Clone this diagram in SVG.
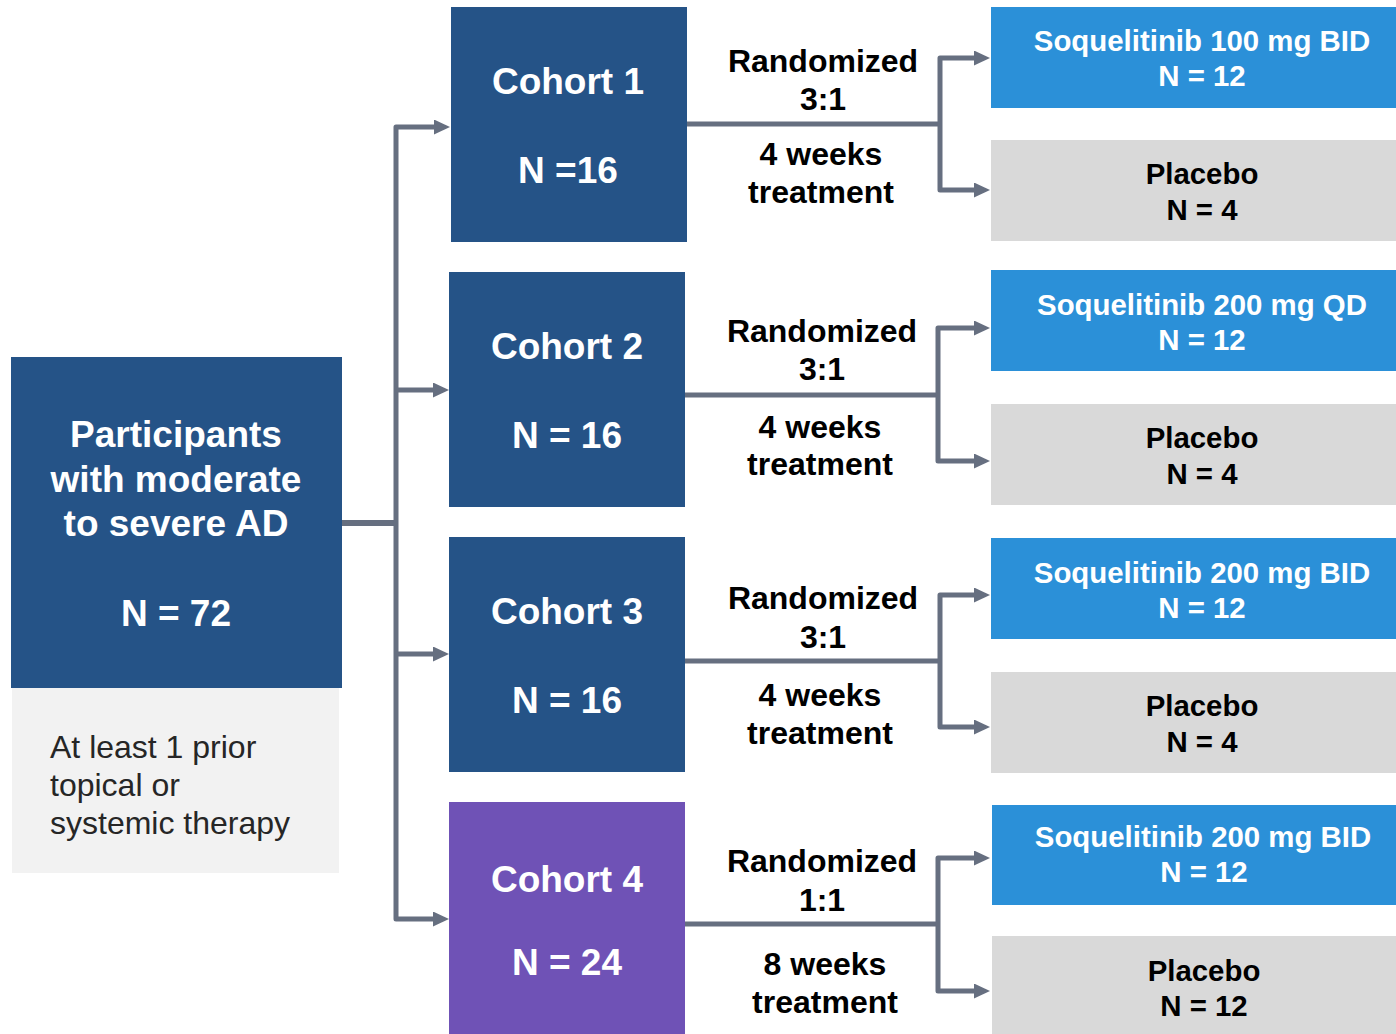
<svg xmlns="http://www.w3.org/2000/svg" width="1396" height="1034" viewBox="0 0 1396 1034">
<style>
text{font-family:"Liberation Sans",Arial,sans-serif;font-weight:bold;text-anchor:middle}
.cohort{fill:#255387}
.c4{fill:#6F52B6}
.drug{fill:#2B90D8}
.plac{fill:#D9D9D9}
.w37{font-size:37px;fill:#fff}
.w29{font-size:29.4px;fill:#fff}
.b29{font-size:29.4px;fill:#000}
.b31{font-size:32px;fill:#000}
.note{font-size:32px;font-weight:normal;text-anchor:start;fill:#262626}
.ln{fill:none;stroke:#666F80;stroke-width:5;stroke-linejoin:round}
</style>
<defs>
<marker id="ah" markerUnits="userSpaceOnUse" markerWidth="17" markerHeight="16" refX="1" refY="7.5" orient="auto">
<path d="M0,0 L16,7.5 L0,15 z" fill="#666F80"/>
</marker>
</defs>
<rect width="1396" height="1034" fill="#fff"/>
<g id="connectors">
<path class="ln" d="M342,523 H396" style="stroke-width:6"/>
<path class="ln" d="M396,523 V127 H435" marker-end="url(#ah)"/>
<path class="ln" d="M396,390 H434" marker-end="url(#ah)"/>
<path class="ln" d="M396,654 H434" marker-end="url(#ah)"/>
<path class="ln" d="M396,523 V919 H434" marker-end="url(#ah)"/>
<path class="ln" d="M687,124 H940"/>
<path class="ln" d="M940,124 V58 H975" marker-end="url(#ah)"/>
<path class="ln" d="M940,124 V190 H975" marker-end="url(#ah)"/>
<path class="ln" d="M685,395 H938"/>
<path class="ln" d="M938,395 V328 H975" marker-end="url(#ah)"/>
<path class="ln" d="M938,395 V461 H975" marker-end="url(#ah)"/>
<path class="ln" d="M685,661 H940"/>
<path class="ln" d="M940,661 V595 H975" marker-end="url(#ah)"/>
<path class="ln" d="M940,661 V727 H975" marker-end="url(#ah)"/>
<path class="ln" d="M685,924 H938"/>
<path class="ln" d="M938,924 V858 H975" marker-end="url(#ah)"/>
<path class="ln" d="M938,924 V991 H975" marker-end="url(#ah)"/>
</g>
<g id="participants">
<rect x="11" y="357" width="331" height="331" class="cohort"/>
<text class="w37" x="176" y="447">Participants</text>
<text class="w37" x="176" y="492">with moderate</text>
<text class="w37" x="176" y="536">to severe AD</text>
<text class="w37" x="176" y="626">N = 72</text>
</g>
<g id="criteria">
<rect x="12" y="688" width="327" height="185" fill="#F2F2F2"/>
<text class="note" x="50" y="758">At least 1 prior</text>
<text class="note" x="50" y="796">topical or</text>
<text class="note" x="50" y="834">systemic therapy</text>
</g>
<g id="cohort1">
<rect x="451" y="7" width="236" height="235" class="cohort"/>
<text class="w37" x="568" y="94">Cohort 1</text>
<text class="w37" x="568" y="183">N =16</text>
</g>
<g id="cohort2">
<rect x="449" y="272" width="236" height="235" class="cohort"/>
<text class="w37" x="567" y="359">Cohort 2</text>
<text class="w37" x="567" y="448">N = 16</text>
</g>
<g id="cohort3">
<rect x="449" y="537" width="236" height="235" class="cohort"/>
<text class="w37" x="567" y="624">Cohort 3</text>
<text class="w37" x="567" y="713">N = 16</text>
</g>
<g id="cohort4">
<rect x="449" y="802" width="236" height="232" class="c4"/>
<text class="w37" x="567" y="892">Cohort 4</text>
<text class="w37" x="567" y="975">N = 24</text>
</g>
<g id="label1">
<text class="b31" x="823" y="72">Randomized</text>
<text class="b31" x="823" y="110">3:1</text>
<text class="b31" x="821" y="165">4 weeks</text>
<text class="b31" x="821" y="203">treatment</text>
</g>
<g id="label2">
<text class="b31" x="822" y="342">Randomized</text>
<text class="b31" x="822" y="380">3:1</text>
<text class="b31" x="820" y="438">4 weeks</text>
<text class="b31" x="820" y="475">treatment</text>
</g>
<g id="label3">
<text class="b31" x="823" y="609">Randomized</text>
<text class="b31" x="823" y="648">3:1</text>
<text class="b31" x="820" y="706">4 weeks</text>
<text class="b31" x="820" y="744">treatment</text>
</g>
<g id="label4">
<text class="b31" x="822" y="872">Randomized</text>
<text class="b31" x="822" y="911">1:1</text>
<text class="b31" x="825" y="975">8 weeks</text>
<text class="b31" x="825" y="1013">treatment</text>
</g>
<g id="arm1a">
<rect x="991" y="7" width="405" height="101" class="drug"/>
<text class="w29" x="1202" y="51">Soquelitinib 100 mg BID</text>
<text class="w29" x="1202" y="86">N = 12</text>
</g>
<g id="arm1b">
<rect x="991" y="140" width="405" height="101" class="plac"/>
<text class="b29" x="1202" y="184">Placebo</text>
<text class="b29" x="1202" y="220">N = 4</text>
</g>
<g id="arm2a">
<rect x="991" y="270" width="405" height="101" class="drug"/>
<text class="w29" x="1202" y="315">Soquelitinib 200 mg QD</text>
<text class="w29" x="1202" y="350">N = 12</text>
</g>
<g id="arm2b">
<rect x="991" y="404" width="405" height="101" class="plac"/>
<text class="b29" x="1202" y="448">Placebo</text>
<text class="b29" x="1202" y="484">N = 4</text>
</g>
<g id="arm3a">
<rect x="991" y="538" width="405" height="101" class="drug"/>
<text class="w29" x="1202" y="583">Soquelitinib 200 mg BID</text>
<text class="w29" x="1202" y="618">N = 12</text>
</g>
<g id="arm3b">
<rect x="991" y="672" width="405" height="101" class="plac"/>
<text class="b29" x="1202" y="716">Placebo</text>
<text class="b29" x="1202" y="752">N = 4</text>
</g>
<g id="arm4a">
<rect x="992" y="805" width="404" height="100" class="drug"/>
<text class="w29" x="1203" y="847">Soquelitinib 200 mg BID</text>
<text class="w29" x="1204" y="882">N = 12</text>
</g>
<g id="arm4b">
<rect x="992" y="936" width="404" height="98" class="plac"/>
<text class="b29" x="1204" y="981">Placebo</text>
<text class="b29" x="1204" y="1016">N = 12</text>
</g>
</svg>
